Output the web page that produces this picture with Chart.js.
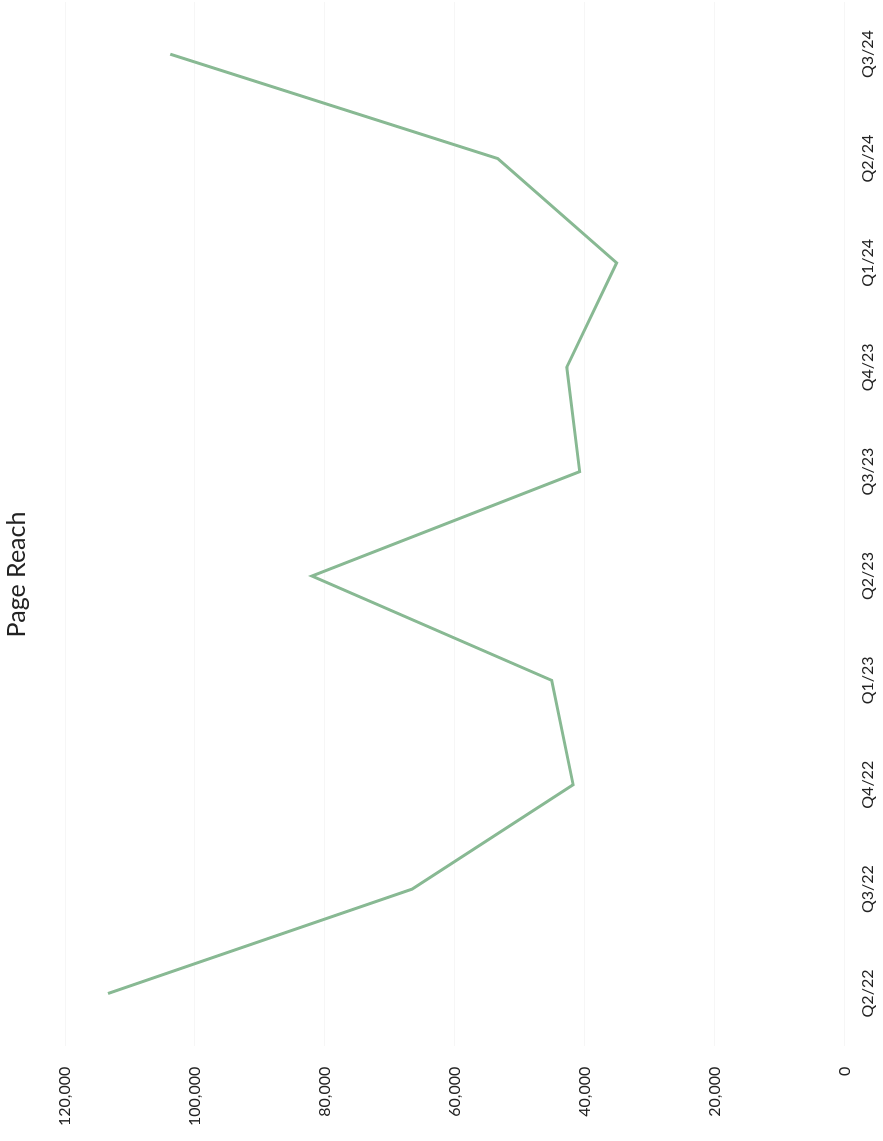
<!DOCTYPE html>
<html>
<head>
<meta charset="utf-8">
<script src="https://cdn.jsdelivr.net/npm/chart.js@4"></script>
<style>
  html, body { margin: 0; padding: 0; background: #fff; overflow: hidden; }
  #wrap {
    position: absolute; left: 0; top: 0;
    width: 1141px; height: 890px;
    transform-origin: 0 0;
    transform: translateY(1141px) rotate(-90deg);
  }
</style>
</head>
<body>
<div id="wrap"><canvas id="lineChart" width="1141" height="890"></canvas></div>
<script>
var quarters = ['Q2/22', 'Q3/22', 'Q4/22', 'Q1/23', 'Q2/23', 'Q3/23', 'Q4/23', 'Q1/24', 'Q2/24', 'Q3/24'];
var pageReach = [113400, 66600, 41800, 45100, 82000, 40800, 42800, 35100, 53400, 103800];
var valueTicks = [0, 20000, 40000, 60000, 80000, 100000, 120000];

var ctx = document.getElementById('lineChart').getContext('2d');
var myChart = new Chart(ctx, {
    type: 'line',
    data: {
        labels: quarters,
        datasets: [{
            label: 'Page Reach',
            data: pageReach,
            borderColor: '#88b993',
            borderWidth: 3,
            pointRadius: 0,
            tension: 0,
            fill: false
        }]
    },
    options: {
        responsive: false,
        animation: false,
        layout: {
            padding: { left: -6, right: 2, top: 0, bottom: 0 }
        },
        plugins: {
            legend: { display: false },
            tooltip: { enabled: false },
            title: {
                display: true,
                text: 'Page Reach',
                color: '#222',
                font: { family: 'Lato', size: 25, weight: 'normal' },
                padding: { top: 2, bottom: 33 }
            }
        },
        scales: {
            x: {
                offset: true,
                grid: { display: false, drawTicks: false },
                border: { display: false },
                ticks: {
                    color: '#222',
                    padding: 13,
                    maxRotation: 0,
                    font: { family: 'Lato', size: 16 }
                }
            },
            y: {
                min: 0,
                max: 120000,
                afterBuildTicks: function (axis) {
                    axis.ticks = valueTicks.map(function (v) { return { value: v }; });
                },
                grid: { color: 'rgba(0,0,0,0.035)', drawTicks: false },
                border: { display: false },
                ticks: {
                    color: '#222',
                    padding: 21,
                    font: { family: 'Lato', size: 16 },
                    callback: function (v) { return v.toLocaleString('en-US'); }
                }
            }
        }
    }
});
</script>
</body>
</html>
